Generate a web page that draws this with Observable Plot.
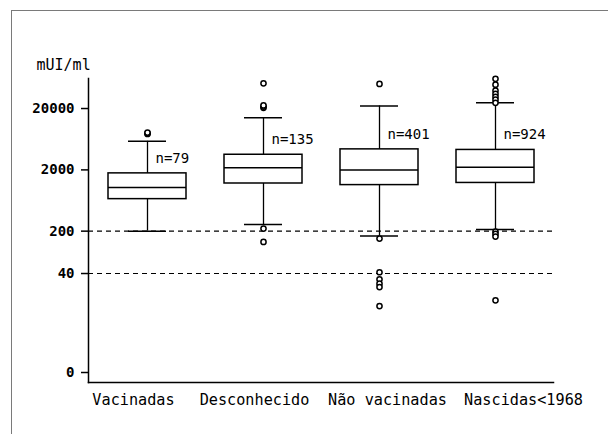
<!DOCTYPE html>
<html><head><meta charset="utf-8">
<script src="https://cdn.jsdelivr.net/npm/d3@7"></script>
<script src="https://cdn.jsdelivr.net/npm/@observablehq/plot@0.6"></script>
<style>
html,body{margin:0;padding:0;background:#fff;}
#wrap{position:relative;width:608px;height:434px;overflow:hidden;}
#frame{position:absolute;left:11px;top:10px;right:0;bottom:0;border-left:1.5px solid #7a7a7a;border-top:1.5px solid #7a7a7a;pointer-events:none;}
#wrap svg{position:absolute;left:0;top:0;}
</style></head><body><div id="wrap"><div id="frame"></div></div>
<script>
const categories = ["Vacinadas", "Desconhecido", "Não vacinadas", "Nascidas<1968"];
const counts = [79, 135, 401, 924];
const lowWhisker = [200, 256, 167, 212];
const q1 = [667, 1200, 1130, 1225];
const median = [1035, 2160, 1985, 2200];
const q3 = [1755, 3530, 4320, 4230];
const highWhisker = [5840, 14200, 22000, 24900];
const outliers = [
  [7700, 7900, 8100],
  [51500, 20500, 21500, 22500, 220, 133],
  [50400, 151, 42, 32, 27, 23.7, 11.1],
  [61000, 49000, 39200, 34800, 31000, 27900, 24800, 197, 180, 163, 14]
];
const yTicks = [0, 40, 200, 2000, 20000];
const refLines = [200, 40];
const yLabel = "mUI/ml";

const boxes = categories.map((c, i) => ({
  category: c, n: counts[i], lo: lowWhisker[i], q1: q1[i], med: median[i], q3: q3[i], hi: highWhisker[i]
}));
const outlierRows = categories.flatMap((c, i) => outliers[i].map(v => ({category: c, value: v})));

// layout: the original sets its category row as one monospaced line, so labels sit off-centre
const labelShift = {"Vacinadas": -14, "Desconhecido": -9, "Não vacinadas": 8, "Nascidas<1968": 28};
const xAxisMarks = categories.map(c =>
  Plot.axisX({ticks: [c], tickSize: 0, tickPadding: 12, fontSize: 15.2, dx: labelShift[c], label: null})
);

const chart = Plot.plot({
  width: 608, height: 434,
  marginLeft: 88, marginRight: 55, marginTop: 78, marginBottom: 52,
  style: {fontFamily: "DejaVu Sans Mono", background: "transparent", color: "#000"},
  x: {type: "band", domain: categories, padding: 0, axis: null},
  y: {type: "symlog", constant: 1, domain: [-0.455, 61700], axis: null},
  marks: [
    Plot.axisY({ticks: yTicks, tickFormat: d => String(d), tickSize: 7, tickPadding: 7, fontSize: 14, fontWeight: "bold", label: null, strokeWidth: 1.5}),
    ...xAxisMarks,
    Plot.frame({anchor: "left", strokeWidth: 1.5}),
    Plot.frame({anchor: "bottom", strokeWidth: 1.5}),
    Plot.ruleY(refLines, {strokeDasharray: "5,4", strokeWidth: 1.2}),
    Plot.ruleX(boxes, {x: "category", y1: "lo", y2: "hi", strokeWidth: 1.3}),
    Plot.tickY(boxes, {x: "category", y: "lo", inset: 39, strokeWidth: 1.5}),
    Plot.tickY(boxes, {x: "category", y: "hi", inset: 39, strokeWidth: 1.5}),
    Plot.barY(boxes, {x: "category", y1: "q1", y2: "q3", fill: "white", stroke: "black", strokeWidth: 1.5, insetLeft: 19, insetRight: 19}),
    Plot.tickY(boxes, {x: "category", y: "med", insetLeft: 19, insetRight: 19, strokeWidth: 1.5}),
    Plot.dot(outlierRows, {x: "category", y: "value", r: 2.6, stroke: "black", fill: "white", strokeWidth: 1.5}),
    Plot.text(boxes, {x: "category", y: "q3", text: d => "n=" + d.n, textAnchor: "start", dx: 8, dy: -15, fontSize: 14}),
    Plot.text([yLabel], {frameAnchor: "top-left", text: d => d, textAnchor: "start", lineAnchor: "middle", dx: -52, dy: -13, fontSize: 15})
  ]
});
document.getElementById("wrap").appendChild(chart);
</script>
</body></html>
